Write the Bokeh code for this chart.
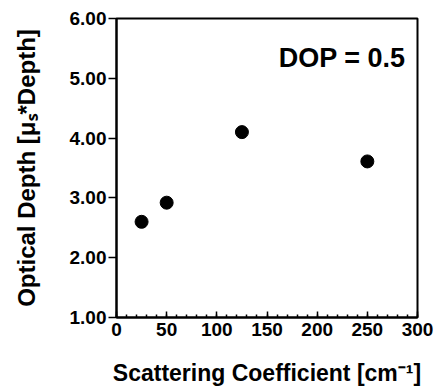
from bokeh.plotting import figure
from bokeh.models import Label, FixedTicker, NumeralTickFormatter
from bokeh.embed import file_html
from bokeh.resources import INLINE

# Data
scattering = [25, 50, 125, 250]
optical_depth = [2.60, 2.92, 4.10, 3.61]
x_ticks = [0, 50, 100, 150, 200, 250, 300]
y_ticks = [1, 2, 3, 4, 5, 6]
x_title = "Scattering Coefficient [cm\u207b\u00b9]"
y_title = "Optical Depth [\u03bc\u209b*Depth]"
annotation = "DOP = 0.5"

FONT = "Liberation Sans"

p = figure(width=434, height=390, x_range=(0, 300), y_range=(1, 6),
           output_backend="svg", toolbar_location=None,
           min_border_left=116, min_border_right=17,
           min_border_top=18, min_border_bottom=73)
p.background_fill_color = "white"
p.border_fill_color = "white"
p.grid.visible = False
p.outline_line_color = "black"
p.outline_line_width = 2

# x axis
xa = p.xaxis[0]
xa.ticker = FixedTicker(ticks=x_ticks, minor_ticks=list(range(0, 301, 10)))
xa.major_tick_in = 6
xa.major_tick_out = 0
xa.minor_tick_in = 3
xa.minor_tick_out = 0
xa.major_label_standoff = 5
xa.axis_line_width = 2
xa.major_tick_line_width = 1.5
xa.minor_tick_line_width = 1.5
xa.major_label_text_font = FONT
xa.major_label_text_font_style = "bold"
xa.major_label_text_font_size = "19px"
xa.major_label_text_color = "black"
xa.axis_label = x_title
xa.axis_label_text_font = FONT
xa.axis_label_text_font_style = "bold"
xa.axis_label_text_font_size = "23px"
xa.axis_label_text_color = "black"
xa.axis_label_standoff = 21

# y axis
ya = p.yaxis[0]
ya.ticker = FixedTicker(ticks=y_ticks)
ya.formatter = NumeralTickFormatter(format="0.00")
ya.major_tick_in = 0
ya.major_tick_out = 8
ya.minor_tick_line_color = None
ya.major_label_standoff = 2
ya.axis_line_width = 2
ya.major_tick_line_width = 1.5
ya.major_label_text_font = FONT
ya.major_label_text_font_style = "bold"
ya.major_label_text_font_size = "19px"
ya.major_label_text_color = "black"
ya.axis_label = y_title
ya.axis_label_text_font = FONT
ya.axis_label_text_font_style = "bold"
ya.axis_label_text_font_size = "24px"
ya.axis_label_text_color = "black"
ya.axis_label_standoff = 27

p.scatter(scattering, optical_depth, size=13, color="black")

# annotation (frame origin on canvas: left=116, bottom=317)
FL, FB = 116, 317
p.add_layout(Label(x=405 - FL, y=FB - 57, x_units="screen", y_units="screen",
                   text=annotation, text_font=FONT, text_font_style="bold",
                   text_font_size="27px", text_align="right",
                   text_baseline="alphabetic", text_color="black"))

open("out.html", "w").write(file_html(p, INLINE))
